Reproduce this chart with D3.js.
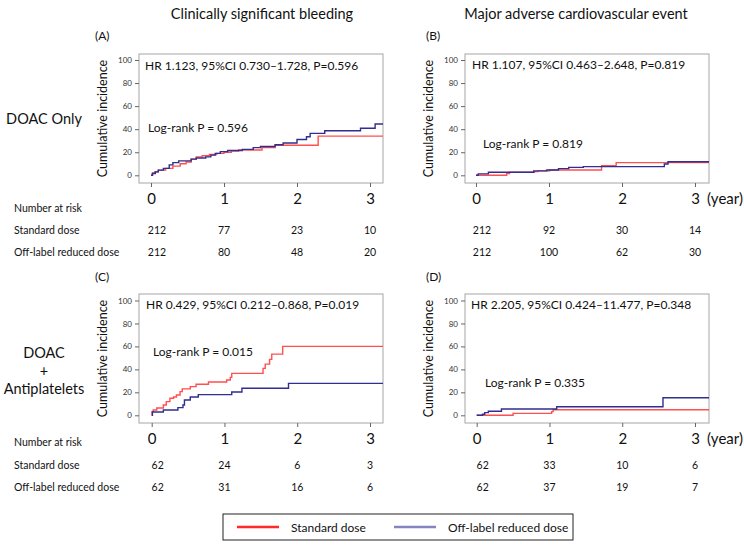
<!DOCTYPE html>
<html><head><meta charset="utf-8">
<script src="https://cdn.jsdelivr.net/npm/d3@7"></script>
<style>
body{margin:0;background:#fff}
svg{display:block}
text{font-family:Lato,"Open Sans",sans-serif;fill:#111}
</style>
</head><body>
<svg id="chart" width="744" height="546"></svg>
<script>
// ---------- data ----------
const timeTicks = [0, 1, 2, 3];
const yTicks = [0, 20, 40, 60, 80, 100];
const colTitles = ["Clinically significant bleeding", "Major adverse cardiovascular event"];
const rowLabels = [["DOAC Only"], ["DOAC", "+", "Antiplatelets"]];
const panelLetters = ["(A)", "(B)", "(C)", "(D)"];
const hrTexts = [
  "HR 1.123, 95%CI 0.730\u20131.728, P=0.596",
  "HR 1.107, 95%CI 0.463\u20132.648, P=0.819",
  "HR 0.429, 95%CI 0.212\u20130.868, P=0.019",
  "HR 2.205, 95%CI 0.424\u201311.477, P=0.348"
];
const logrankTexts = ["Log-rank P = 0.596", "Log-rank P = 0.819", "Log-rank P = 0.015", "Log-rank P = 0.335"];
const seriesNames = ["Standard dose", "Off-label reduced dose"];
const tableHeader = "Number at risk";
const yLabel = "Cumulative incidence";

// cumulative incidence (%) step points [year, value]
const stdA = [[0,0],[0.02,2],[0.05,3],[0.1,4.5],[0.2,6],[0.3,8],[0.4,10],[0.48,11.5],[0.55,14],[0.62,16],[0.7,17],[0.8,18],[0.9,19],[1.0,20],[1.1,21],[1.2,22],[1.52,24],[1.7,26],[2.29,34]];
const offA = [[0,0],[0.02,1.5],[0.06,3],[0.1,4.5],[0.17,6],[0.25,9],[0.3,11],[0.38,12.5],[0.55,14],[0.62,15],[0.75,16],[0.82,17.5],[0.88,19],[0.95,20.5],[1.05,21.5],[1.25,22.5],[1.4,24],[1.5,25],[1.7,26.5],[1.81,28],[2.0,31],[2.13,33.5],[2.18,36.4],[2.38,38.7],[2.87,40.8],[3.07,44.5]];
const stdB = [[0,0],[0.42,1.5],[0.46,2.6],[0.8,3.2],[0.85,3.8],[1.01,4.6],[1.72,8.4],[1.92,11]];
const offB = [[0,0],[0.03,1.2],[0.17,2.6],[0.79,3.8],[0.97,4.6],[1.13,5.8],[1.27,6.9],[1.47,7.5],[2.58,9.8],[2.63,11.8]];
const stdC = [[0,0],[0.005,3.2],[0.02,4.6],[0.07,6.4],[0.16,9],[0.2,11.9],[0.25,14.8],[0.3,16],[0.34,17.7],[0.39,20.6],[0.42,23],[0.53,25],[0.61,27],[0.78,29],[1.03,30.7],[1.08,33],[1.1,36.5],[1.53,40.9],[1.56,44.6],[1.62,48.7],[1.65,53.3],[1.8,60]];
const offC = [[0,0],[0.01,2.9],[0.16,4.6],[0.36,6.7],[0.43,9],[0.45,13.3],[0.53,16],[0.64,18],[1.1,20.3],[1.24,23.5],[1.88,27.8]];
const stdD = [[0,0],[0.5,1.7],[1.03,3.2],[1.05,4.9]];
const offD = [[0,0],[0.08,0.9],[0.11,2.3],[0.16,3.5],[0.34,5.5],[1.1,7.5],[2.56,15.3]];

// numbers at risk at years 0,1,2,3
const riskStdA = [212, 77, 23, 10], riskOffA = [212, 80, 48, 20];
const riskStdB = [212, 92, 30, 14], riskOffB = [212, 100, 62, 30];
const riskStdC = [62, 24, 6, 3],   riskOffC = [62, 31, 16, 6];
const riskStdD = [62, 33, 10, 6],  riskOffD = [62, 37, 19, 7];

// ---------- layout ----------
const colors = ["#ff4f4f", "#2e2f8e"];
const legendColors = ["#ff2a2a", "#8585bd"];
const panels = [
  {std: stdA, off: offA, rs: riskStdA, ro: riskOffA, left:139, right:383, top:54, bottom:183, xr:[151,370], yr:[175.3,60], ylabX:103, letter:[95,40], hr:[145,70], lr:[148,132], rows:[212,234,256], labels:true, year:false},
  {std: stdB, off: offB, rs: riskStdB, ro: riskOffB, left:465, right:709, top:54, bottom:183, xr:[476,695], yr:[175.3,60], ylabX:429, letter:[426,40], hr:[472,69], lr:[483,148], rows:[212,234,256], labels:false, year:true},
  {std: stdC, off: offC, rs: riskStdC, ro: riskOffC, left:139, right:383, top:294, bottom:423, xr:[151.7,370], yr:[415.3,300.5], ylabX:103, letter:[95,281], hr:[146,309], lr:[153,356], rows:[446,469,491], labels:true, year:false},
  {std: stdD, off: offD, rs: riskStdD, ro: riskOffD, left:465, right:709, top:294, bottom:423, xr:[476.7,695], yr:[415.3,300.5], ylabX:429, letter:[426,281], hr:[471,309], lr:[485,387], rows:[446,469,491], labels:false, year:true}
];

const svg = d3.select("#chart");

// column titles
svg.selectAll(".ctitle").data(colTitles).join("text")
  .attr("x", (d, i) => [262, 576][i]).attr("y", 19)
  .attr("text-anchor", "middle").style("font-size", "14.5px").text(d => d);

// row labels
svg.append("text").attr("x", 44).attr("y", 124).attr("text-anchor", "middle").style("font-size", "14.5px").text(rowLabels[0][0]);
rowLabels[1].forEach((t, i) => {
  svg.append("text").attr("x", 44).attr("y", [358, 376, 394][i]).attr("text-anchor", "middle").style("font-size", "14.5px").text(t);
});

panels.forEach((p, i) => {
  const g = svg.append("g");
  const x = d3.scaleLinear().domain([0, 3]).range(p.xr);
  const y = d3.scaleLinear().domain([0, 100]).range(p.yr);
  const tEnd = x.invert(p.right);

  // box
  g.append("rect").attr("x", p.left).attr("y", p.top)
    .attr("width", p.right - p.left).attr("height", p.bottom - p.top)
    .attr("fill", "none").attr("stroke", "#a6a6a6").attr("stroke-width", 1);

  // y axis
  const ya = g.append("g").attr("transform", `translate(${p.left},0)`)
    .call(d3.axisLeft(y).tickValues(yTicks).tickSize(4).tickPadding(3));
  ya.select(".domain").remove();
  ya.selectAll("line").attr("stroke", "#666");
  ya.selectAll("text").style("font-size", "8px").style("fill", "#333").style("font-family", "Lato,sans-serif");

  // x axis
  const xa = g.append("g").attr("transform", `translate(0,${p.bottom})`)
    .call(d3.axisBottom(x).tickValues(timeTicks).tickFormat(d3.format("d")).tickSize(4).tickPadding(6));
  xa.select(".domain").remove();
  xa.selectAll("line").attr("stroke", "#666");
  xa.selectAll("text").style("font-size", "15px").style("fill", "#111").style("font-family", "Lato,sans-serif");
  if (p.year) {
    g.append("text").attr("x", x(3) + 12).attr("y", p.bottom + 21).style("font-size", "15px").text("(year)");
  }

  // y label
  g.append("text").attr("transform", `translate(${p.ylabX},${(p.top + p.bottom) / 2}) rotate(-90)`)
    .attr("text-anchor", "middle").attr("dy", "0.35em").style("font-size", "12.5px").text(yLabel);

  // letter
  g.append("text").attr("x", p.letter[0]).attr("y", p.letter[1]).style("font-size", "12px").text(panelLetters[i]);

  // curves
  const line = d3.line().x(d => x(d[0])).y(d => y(d[1])).curve(d3.curveStepAfter);
  [p.std, p.off].forEach((s, k) => {
    const pts = s.concat([[tEnd, s[s.length - 1][1]]]);
    g.append("path").attr("d", line(pts)).attr("fill", "none")
      .attr("stroke", colors[k]).attr("stroke-width", 1.4);
  });

  // annotations
  g.append("text").attr("x", p.hr[0]).attr("y", p.hr[1]).style("font-size", "12px").text(hrTexts[i]);
  g.append("text").attr("x", p.lr[0]).attr("y", p.lr[1]).style("font-size", "12px").text(logrankTexts[i]);

  // numbers at risk
  if (p.labels) {
    g.append("text").attr("x", 14).attr("y", p.rows[0]).style("font-size", "10.5px").text(tableHeader);
    seriesNames.forEach((n, k) => g.append("text").attr("x", 14).attr("y", p.rows[k + 1]).style("font-size", "10.5px").text(n));
  }
  [p.rs, p.ro].forEach((arr, k) => {
    g.selectAll(null).data(arr).join("text")
      .attr("x", (d, j) => x(timeTicks[j]) + (j === 0 ? 6 : 0))
      .attr("y", p.rows[k + 1]).attr("text-anchor", "middle")
      .style("font-size", "10.5px").text(d => d);
  });
});

// legend
const lg = svg.append("g");
lg.append("rect").attr("x", 223).attr("y", 514).attr("width", 350).attr("height", 26)
  .attr("fill", "#fff").attr("stroke", "#222").attr("stroke-width", 1);
seriesNames.forEach((n, k) => {
  const lx = [237, 394][k];
  lg.append("line").attr("x1", lx).attr("x2", lx + 42).attr("y1", 527).attr("y2", 527)
    .attr("stroke", legendColors[k]).attr("stroke-width", 2.5);
  lg.append("text").attr("x", lx + 54).attr("y", 531.5).style("font-size", "12px").text(n);
});
</script>
</body></html>
